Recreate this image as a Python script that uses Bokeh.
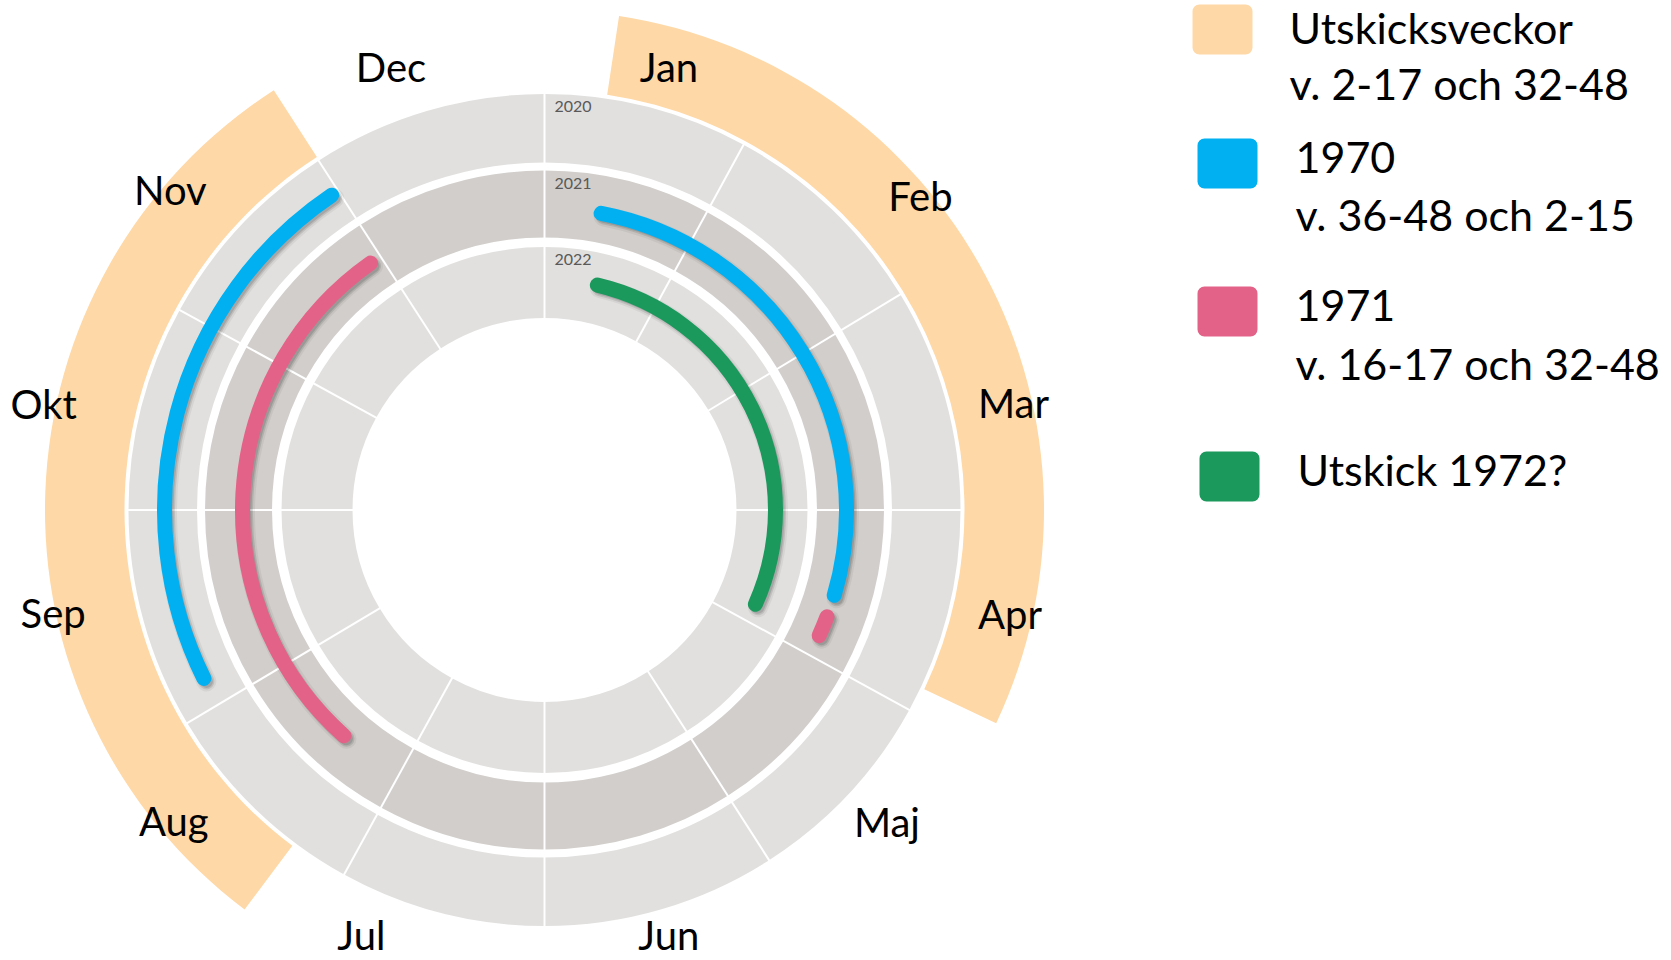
import numpy as np
from bokeh.plotting import figure
from bokeh.models import Range1d
from bokeh.embed import file_html
from bokeh.resources import INLINE
from bokeh.core.properties import value

# ---------------- data ----------------
months = ["Jan", "Feb", "Mar", "Apr", "Maj", "Jun", "Jul", "Aug", "Sep", "Okt", "Nov", "Dec"]
# month boundaries (end of each month) in weeks on a 52-week circle
month_end_week = [4.13, 8.49, 13.0, 17.15, 21.28, 26.0, 30.16, 34.55, 39.0, 43.15, 47.25, 52.0]
rings = ["2020", "2021", "2022"]

# mailing windows (weeks)
window_start = [1.24, 31.33]
window_end = [16.65, 47.26]

# 1970 mailings: ring, start week, end week
s1970_ring = ["2020", "2021"]
s1970_start = [35.2, 1.56]
s1970_end = [47.08, 15.37]

# 1971 mailings
s1971_ring = ["2021", "2021"]
s1971_start = [15.99, 32.01]
s1971_end = [16.55, 46.92]

# 1972 mailing?
s1972_ring = ["2022"]
s1972_start = [1.91]
s1972_end = [16.48]

legend_line1 = ["Utskicksveckor", "1970", "1971", "Utskick 1972?"]
legend_line2 = ["v. 2-17 och 32-48", "v. 36-48 och 2-15", "v. 16-17 och 32-48"]

# ---------------- layout / style ----------------
W, H = 1671, 960
CX, CY = 544.0, H - 509.5
RING_R = {"2020": (347.5, 416.0), "2021": (272.5, 339.5), "2022": (192.0, 263.0)}
RING_COLOR = {"2020": "#E1E0DF", "2021": "#D1CECB", "2022": "#E1E0DF"}
ARC_R = {"2020": 380.0, "2021": 302.0, "2022": 231.0}
BAND_R = (420.0, 499.5)
ORANGE = "#FED8A6"
BLUE = "#00B0F0"
PINK = "#E36388"
GREEN = "#1B995D"
FONT = value("Lato")
# month label placement: angle (deg, clockwise from top) and radius
LABEL_POLAR = [(15.7, 460), (50.1, 490), (77.2, 481), (102.6, 477), (132.3, 463), (163.7, 443),
               (203.3, 463), (230.0, 484), (258.2, 502), (282.0, 512), (310.5, 492), (340.9, 469)]


def ang(week):
    """week on 52-week clock (clockwise from top) -> bokeh radians"""
    return np.deg2rad(90.0 - np.asarray(week, dtype=float) * 360.0 / 52.0)


p = figure(width=W, height=H, x_range=Range1d(0, W), y_range=Range1d(0, H),
           x_axis_location=None, y_axis_location=None, toolbar_location=None,
           output_backend="svg", min_border=0, outline_line_color=None)
p.grid.visible = False

# orange mailing-window band
p.annular_wedge(x=CX, y=CY, inner_radius=BAND_R[0], outer_radius=BAND_R[1],
                start_angle=ang(window_end), end_angle=ang(window_start),
                fill_color=ORANGE, line_color=None)

# rings
month_start_week = [0.0] + month_end_week[:-1]
for r in rings:
    p.annular_wedge(x=CX, y=CY, inner_radius=RING_R[r][0], outer_radius=RING_R[r][1],
                    start_angle=ang(month_end_week), end_angle=ang(month_start_week),
                    fill_color=RING_COLOR[r], line_color=None)

# month separators
a = ang(month_end_week)
p.segment(x0=CX + 190 * np.cos(a), y0=CY + 190 * np.sin(a),
          x1=CX + 418 * np.cos(a), y1=CY + 418 * np.sin(a),
          line_color="white", line_width=2)

# year labels
p.text(x=[CX + 10] * 3, y=[CY + RING_R[r][1] - 12.5 for r in rings], text=rings,
       text_font=FONT, text_font_size="16px", text_color="#595959",
       text_baseline="alphabetic", text_align="left")


def draw_series(ring_list, starts, ends, color):
    rads = [ARC_R[r] for r in ring_list]
    sa, ea = ang(ends), ang(starts)
    for w, al in [(20, 0.05), (16, 0.10), (13, 0.12)]:
        p.arc(x=CX + 2.5, y=CY - 3.0, radius=rads, start_angle=sa, end_angle=ea,
              line_color="black", line_alpha=al, line_width=w, line_cap="round")
    p.arc(x=CX, y=CY, radius=rads, start_angle=sa, end_angle=ea,
          line_color=color, line_width=15, line_cap="round")


draw_series(s1970_ring, s1970_start, s1970_end, BLUE)
draw_series(s1971_ring, s1971_start, s1971_end, PINK)
draw_series(s1972_ring, s1972_start, s1972_end, GREEN)

# month labels
la = np.deg2rad(90.0 - np.array([lp[0] for lp in LABEL_POLAR]))
lr = np.array([lp[1] for lp in LABEL_POLAR])
p.text(x=CX + lr * np.cos(la), y=CY + lr * np.sin(la), text=months,
       text_font=FONT, text_font_size="40px", text_color="black",
       text_align="center", text_baseline="middle")

# legend
sw_left = [1192, 1197, 1197, 1199]
sw_top = [4, 138, 286, 451]
txt_x = [1289, 1295, 1295, 1297]
base1 = [26.5, 156.5, 304.5, 468.5]
base2 = [82.5, 213.5, 362.5]
colors = [ORANGE, BLUE, PINK, GREEN]
p.quad(left=sw_left, right=[v + 60 for v in sw_left], top=[H - v for v in sw_top],
       bottom=[H - v - 50 for v in sw_top], fill_color=colors, line_color=None,
       border_radius=7)
p.text(x=txt_x, y=[H - v for v in base1], text=legend_line1, text_font=FONT,
       text_font_size="43px", text_color="black", text_baseline="alphabetic")
p.text(x=txt_x[:3], y=[H - v for v in base2], text=legend_line2, text_font=FONT,
       text_font_size="43px", text_color="black", text_baseline="alphabetic")

open("out.html", "w").write(file_html(p, INLINE))
